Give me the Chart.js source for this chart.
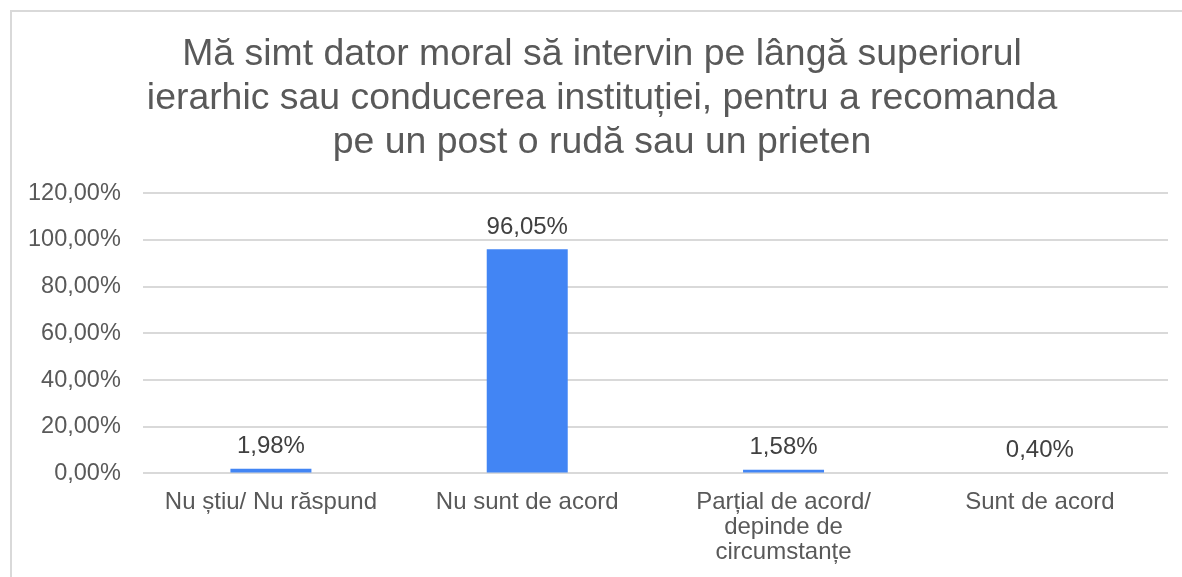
<!DOCTYPE html>
<html>
<head>
<meta charset="utf-8">
<script src="https://cdn.jsdelivr.net/npm/chart.js@4"></script>
<style>
  html, body { margin: 0; padding: 0; background: #fff; }
  #wrap { position: relative; width: 1182px; height: 577px; overflow: hidden; }
  #frame { position: absolute; left: 10px; top: 10px; width: 1200px; height: 600px; border: 2px solid #d9d9d9; box-sizing: border-box; }
  #chart { position: absolute; left: 0; top: 0; }
</style>
</head>
<body>
<div id="wrap">
  <div id="frame"></div>
  <canvas id="chart" width="1182" height="577"></canvas>
</div>
<script>
// date
const categorii = [
  "Nu știu/ Nu răspund",
  "Nu sunt de acord",
  ["Parțial de acord/", "depinde de", "circumstanțe"],
  "Sunt de acord",
]
const valori = [1.98, 96.05, 1.58, 0.40]
const titlu = [
  "Mă simt dator moral să intervin pe lângă superiorul",
  "ierarhic sau conducerea instituției, pentru a recomanda",
  "pe un post o rudă sau un prieten",
]
const yMax = 120
const yPas = 20

const FONT = "'Liberation Sans', Arial, sans-serif"
const procent = (v) => v.toFixed(2).replace(".", ",") + "%"

// etichete deasupra barelor
const eticheteBare = {
  id: "eticheteBare",
  afterLayout(chart) {
    // titlul din original e putin spre dreapta
    if (chart.titleBlock) chart.titleBlock.left += 30
  },
  afterDatasetsDraw(chart) {
    const ctx = chart.ctx
    ctx.save()
    ctx.font = "24px " + FONT
    ctx.fillStyle = "#404040"
    ctx.textAlign = "center"
    ctx.textBaseline = "bottom"
    chart.getDatasetMeta(0).data.forEach((bar, i) => {
      ctx.fillText(procent(valori[i]), bar.x, bar.y - 10)
    })
    ctx.restore()
  }
}

const ctxChart = document.querySelector("#chart").getContext("2d")
const chart = new Chart(ctxChart, {
  type: "bar",
  data: {
    labels: categorii,
    datasets: [{
      data: valori,
      backgroundColor: "#4285f4",
      barPercentage: 0.632,
      categoryPercentage: 0.5,
    }]
  },
  options: {
    responsive: false,
    animation: false,
    layout: { padding: { left: 6, right: 14, top: 33, bottom: 4 } },
    plugins: {
      legend: { display: false },
      tooltip: { enabled: false },
      title: {
        display: true,
        text: titlu,
        color: "#595959",
        font: { family: FONT, size: 37.4, weight: "normal", lineHeight: 1.175 },
        padding: { top: 0, bottom: 28.5 },
      },
    },
    scales: {
      x: {
        grid: { display: false },
        border: { display: false },
        ticks: {
          color: "#595959",
          font: { family: FONT, size: 24, lineHeight: 1.05 },
          maxRotation: 0,
          autoSkip: false,
          padding: 8,
        },
      },
      y: {
        min: 0,
        max: yMax,
        grid: { color: "#d9d9d9", lineWidth: 2, drawTicks: false },
        border: { display: false },
        ticks: {
          stepSize: yPas,
          color: "#595959",
          font: { family: FONT, size: 23.5 },
          padding: 22,
          callback: (v) => procent(v),
        },
      },
    },
  },
  plugins: [eticheteBare],
})
</script>
</body>
</html>
